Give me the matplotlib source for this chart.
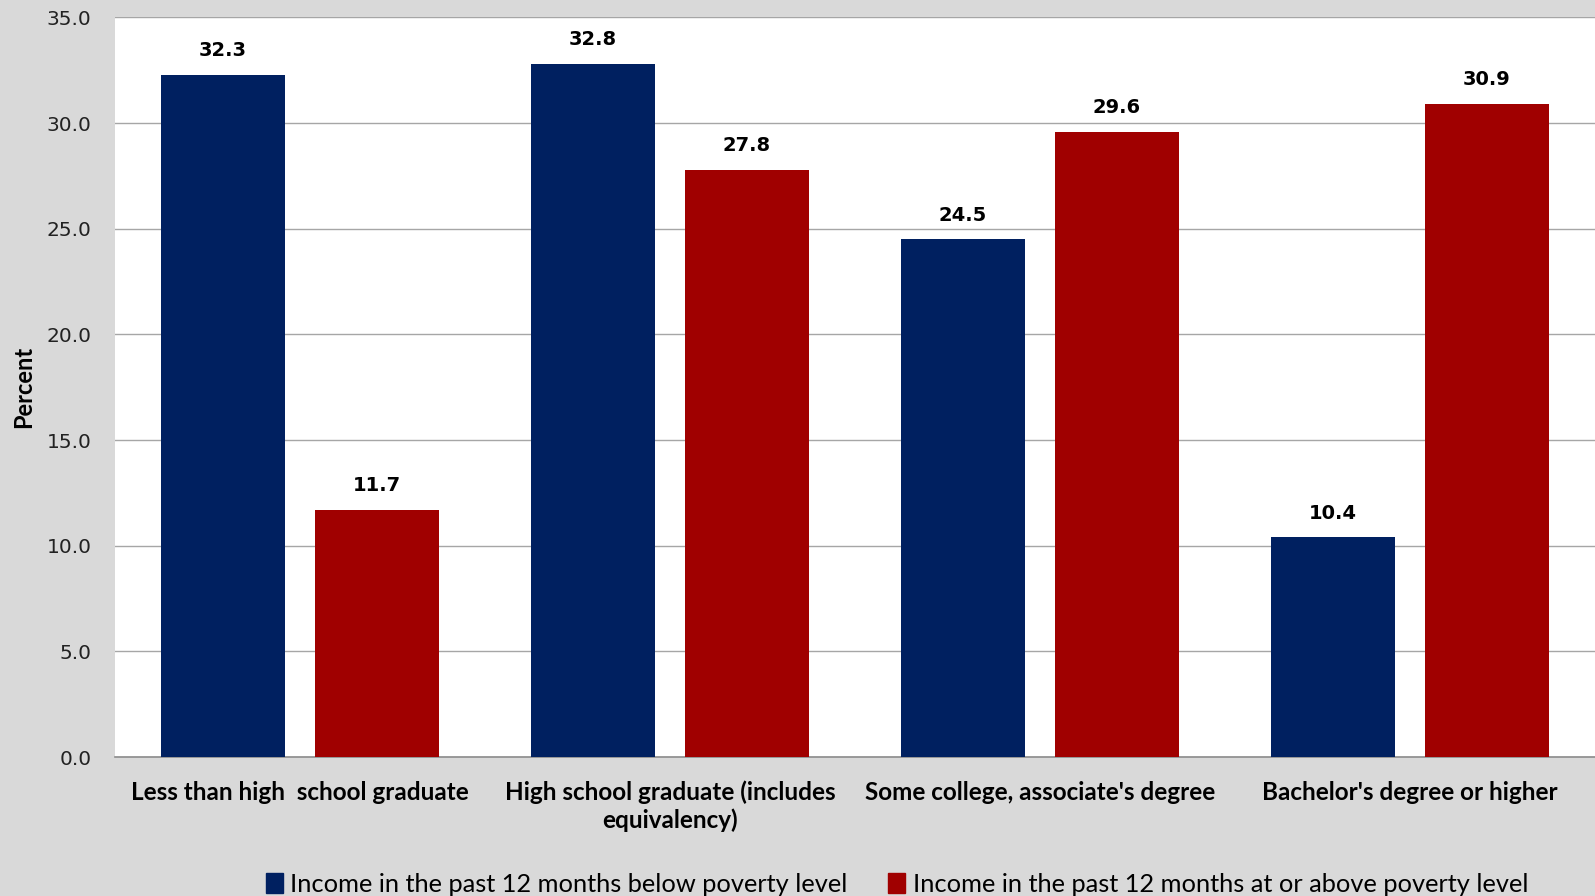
import matplotlib
matplotlib.use("Agg")
import matplotlib.pyplot as plt
import numpy as np
from matplotlib.patches import Patch

categories = ["Less than high  school graduate",
              "High school graduate (includes\nequivalency)",
              "Some college, associate's degree",
              "Bachelor's degree or higher"]
below_poverty = [32.3, 32.8, 24.5, 10.4]
above_poverty = [11.7, 27.8, 29.6, 30.9]
series_names = ["Income in the past 12 months below poverty level",
                "Income in the past 12 months at or above poverty level"]
yticks = [0, 5, 10, 15, 20, 25, 30, 35]

blue = "#002060"
red = "#A00000"
bg = "#D9D9D9"

fig = plt.figure(figsize=(15.95, 8.96), dpi=100, facecolor=bg)
ax = fig.add_axes([0.0721, 0.155, 0.9279, 0.8255])
ax.set_facecolor("white")

x = np.arange(len(categories))
w = 0.333
off = 0.208
b1 = ax.bar(x - off, below_poverty, w, color=blue, zorder=3)
b2 = ax.bar(x + off, above_poverty, w, color=red, zorder=3)

for bars, vals in ((b1, below_poverty), (b2, above_poverty)):
    for rect, v in zip(bars, vals):
        ax.text(rect.get_x() + rect.get_width() / 2, v + 0.7, f"{v:.1f}",
                ha="center", va="bottom", fontsize=14, fontweight="bold",
                family="DejaVu Sans")

ax.set_xlim(-0.5, 3.5)
ax.set_ylim(0, 35)
ax.set_yticks(yticks)
ax.set_yticklabels([f"{t:.1f}" for t in yticks], fontsize=14.5, family="DejaVu Sans",
                   color="#222222")
ax.yaxis.grid(True, color="#a6a6a6", linewidth=1.0, zorder=0)
ax.tick_params(axis="y", length=0, pad=17)
ax.tick_params(axis="x", length=0, pad=17)
ax.set_xticks(x)
ax.set_xticklabels(categories, fontsize=17.5, fontweight="bold", family="Lato",
                   linespacing=1.2)

for s in ("left", "right", "top"):
    ax.spines[s].set_visible(False)
ax.spines["bottom"].set_color("#8c8c8c")
ax.spines["bottom"].set_linewidth(1.2)

ax.set_ylabel("Percent", fontsize=17, fontweight="bold", family="Lato")
ax.yaxis.set_label_coords(-0.054, 0.5)

handles = [Patch(color=blue, label=series_names[0]),
           Patch(color=red, label=series_names[1])]
fig.legend(handles=handles, loc="center", bbox_to_anchor=(0.5625, 0.013), ncol=2,
           frameon=False, prop={"family": "Lato", "size": 18.3},
           handlelength=0.65, handleheight=0.8, handletextpad=0.3, columnspacing=1.6)

fig.savefig("out.png", dpi=100, facecolor=bg)
